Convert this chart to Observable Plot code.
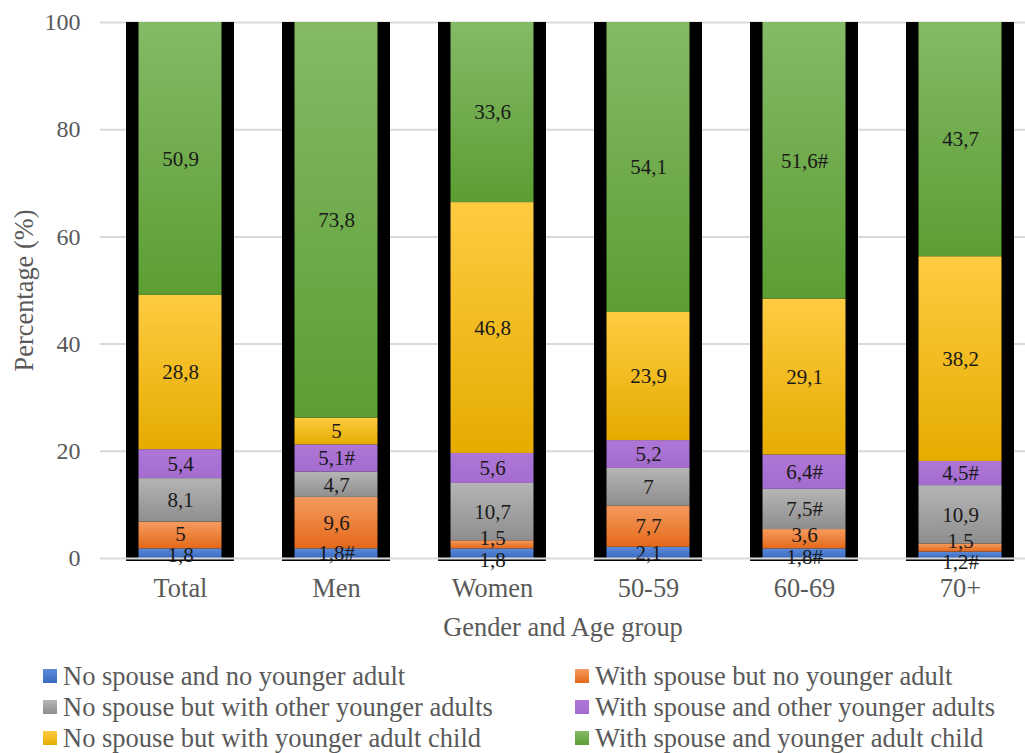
<!DOCTYPE html>
<html>
<head>
<meta charset="utf-8">
<script src="https://cdn.jsdelivr.net/npm/d3@7"></script>
<script src="https://cdn.jsdelivr.net/npm/@observablehq/plot@0.6"></script>
<style>
  body { margin: 0; background: #fff; font-family: 'Liberation Serif', 'Times New Roman', serif; }
  #legend { position: relative; width: 1025px; height: 103px; font-family: 'Liberation Serif', serif; }
  .item { position: absolute; display: flex; align-items: center; font-size: 26.5px; line-height: 30px; color: #595959; white-space: nowrap; transform: translateY(-50%); }
  .sw { width: 14px; height: 14px; margin-right: 6px; flex: none; }
</style>
</head>
<body>
<div id="chart"></div>
<div id="legend"></div>
<script>
// Groups along the x axis
const groups = ['Total', 'Men', 'Women', '50-59', '60-69', '70+'];

// Living arrangement categories, bottom to top of each stack
const series = [
  'No spouse and no younger adult',
  'With spouse but no younger adult',
  'No spouse but with other younger adults',
  'With spouse and other younger adults',
  'No spouse but with younger adult child',
  'With spouse and younger adult child'
];

// Percentages per group (Total, Men, Women, 50-59, 60-69, 70+)
const noSpouseNoYounger   = [1.8, 1.8, 1.8, 2.1, 1.8, 1.2];
const spouseNoYounger     = [5, 9.6, 1.5, 7.7, 3.6, 1.5];
const noSpouseOtherAdults = [8.1, 4.7, 10.7, 7, 7.5, 10.9];
const spouseOtherAdults   = [5.4, 5.1, 5.6, 5.2, 6.4, 4.5];
const noSpouseChild       = [28.8, 5, 46.8, 23.9, 29.1, 38.2];
const spouseChild         = [50.9, 73.8, 33.6, 54.1, 51.6, 43.7];

// Values flagged with "#"
const noSpouseNoYoungerFlag   = [false, true, false, false, true, true];
const spouseNoYoungerFlag     = [false, false, false, false, false, false];
const noSpouseOtherAdultsFlag = [false, false, false, false, true, false];
const spouseOtherAdultsFlag   = [false, true, false, false, true, true];
const noSpouseChildFlag       = [false, false, false, false, false, false];
const spouseChildFlag         = [false, false, false, false, true, false];

const yTicks = [0, 20, 40, 60, 80, 100];

// Gradient stops (top, bottom) for each category
const gradients = [
  ['#5b8bd8', '#3b6abf'],
  ['#f59b5e', '#e4691a'],
  ['#b5b5b5', '#8e8e8e'],
  ['#ad76d6', '#a56cd0'],
  ['#ffcb42', '#e5ac00'],
  ['#84ba66', '#5c9e33']
];

const seriesValues = [noSpouseNoYounger, spouseNoYounger, noSpouseOtherAdults, spouseOtherAdults, noSpouseChild, spouseChild];
const seriesFlags = [noSpouseNoYoungerFlag, spouseNoYoungerFlag, noSpouseOtherAdultsFlag, spouseOtherAdultsFlag, noSpouseChildFlag, spouseChildFlag];

// One row per segment; label positions start at the segment middle and are
// spread apart when neighbouring small segments would make them collide.
const minGap = 4.0; // in percentage units
const rows = [];
groups.forEach((g, i) => {
  let base = 0;
  const col = seriesValues.map((vals, k) => {
    const v = vals[i];
    const r = { group: g, series: series[k], value: v, flag: seriesFlags[k][i], labelY: base + v / 2 };
    base += v;
    return r;
  });
  for (let k = 1; k < col.length; k++) {
    const a = col[k - 1], b = col[k];
    if (b.labelY - a.labelY < minGap) {
      const mid = (a.labelY + b.labelY) / 2;
      a.labelY = mid - minGap / 2;
      b.labelY = mid + minGap / 2;
    }
  }
  rows.push(...col);
});
rows.sort((a, b) => series.indexOf(a.series) - series.indexOf(b.series));

const frames = groups.map((g, i) => ({ group: g, total: d3.sum(seriesValues, s => s[i]) }));

const fmt = d => String(d.value).replace('.', ',') + (d.flag ? '#' : '');
const serif = "'Liberation Serif', 'Times New Roman', serif";

const chart = Plot.plot({
  width: 1025,
  height: 650,
  marginTop: 22,
  marginBottom: 92,
  marginLeft: 100,
  marginRight: 0,
  style: { fontFamily: serif, background: 'white', overflow: 'visible' },
  x: { domain: groups, range: [100, 1041], paddingInner: 0.305, paddingOuter: 0.1525 },
  y: { domain: [0, 100] },
  color: { domain: series, range: series.map((_, k) => `url(#seg-${k})`) },
  marks: [
    Plot.ruleY(yTicks.filter(t => t > 0), { stroke: '#d9d9d9', strokeWidth: 2 }),
    Plot.barY(frames, { x: 'group', y: 'total', fill: 'black', insetBottom: -3 }),
    Plot.barY(rows, { x: 'group', y: 'value', fill: 'series', order: series, insetLeft: 12.5, insetRight: 12.5 }),
    Plot.ruleY([0], { stroke: '#d9d9d9', strokeWidth: 2 }),
    Plot.text(rows, {
      x: 'group', y: 'labelY', text: fmt,
      fontSize: 21, fill: '#1a1a1a', fontFamily: serif
    }),
    Plot.axisY({
      ticks: yTicks, tickSize: 0, tickPadding: 20, fontSize: 24, color: '#595959', fontFamily: serif,
      label: null
    }),
    Plot.axisY({
      ticks: [], tickSize: 0, fontSize: 26.4, color: '#595959', fontFamily: serif,
      label: 'Percentage (%)', labelAnchor: 'center', labelArrow: 'none', labelOffset: 86
    }),
    Plot.axisX({
      tickSize: 0, tickPadding: 20, fontSize: 26.4, color: '#595959', fontFamily: serif,
      label: 'Gender and Age group', labelAnchor: 'center', labelArrow: 'none', labelOffset: 77
    })
  ]
});

// Vertical gradients for the stacked segments
const defs = d3.select(chart).insert('defs', ':first-child');
gradients.forEach(([top, bottom], k) => {
  const g = defs.append('linearGradient').attr('id', `seg-${k}`)
    .attr('x1', 0).attr('y1', 0).attr('x2', 0).attr('y2', 1);
  g.append('stop').attr('offset', '0%').attr('stop-color', top);
  g.append('stop').attr('offset', '100%').attr('stop-color', bottom);
});

document.getElementById('chart').append(chart);

// Legend: two columns, three rows
const legend = d3.select('#legend');
series.forEach((name, k) => {
  const col = k % 2, row = Math.floor(k / 2);
  const item = legend.append('div').attr('class', 'item')
    .style('left', (col === 0 ? 43 : 575) + 'px')
    .style('top', (26 + row * 31) + 'px');
  item.append('div').attr('class', 'sw')
    .style('background', `linear-gradient(${gradients[k][0]}, ${gradients[k][1]})`);
  item.append('span').text(name);
});
</script>
</body>
</html>
